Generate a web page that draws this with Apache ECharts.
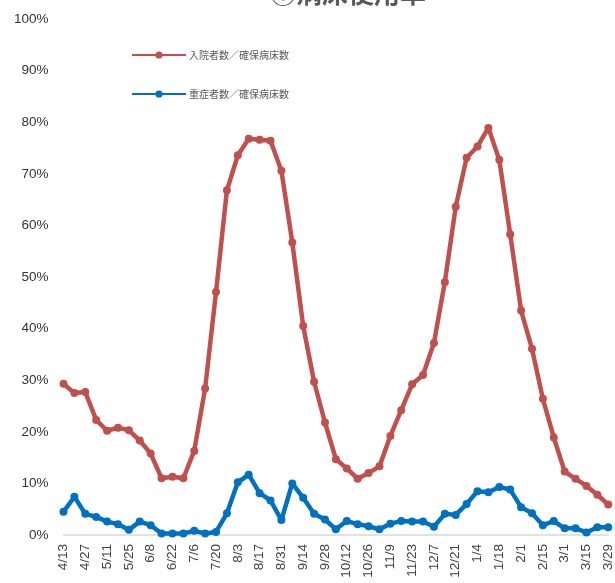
<!DOCTYPE html>
<html>
<head>
<meta charset="utf-8">
<script src="https://cdn.jsdelivr.net/npm/echarts@6/dist/echarts.min.js"></script>
<style>html,body{margin:0;padding:0;background:#fff}#c{width:615px;height:583px}</style>
</head>
<body>
<div id="c"></div>
<script>
const categories = ["4/13","4/20","4/27","5/4","5/11","5/18","5/25","6/1","6/8","6/15","6/22","6/29","7/6","7/13","7/20","7/27","8/3","8/10","8/17","8/24","8/31","9/7","9/14","9/21","9/28","10/5","10/12","10/19","10/26","11/2","11/9","11/16","11/23","11/30","12/7","12/14","12/21","12/28","1/4","1/11","1/18","1/25","2/1","2/8","2/15","2/22","3/1","3/8","3/15","3/22","3/29"];
const hospitalized = [29.3,27.5,27.7,22.3,20.2,20.8,20.3,18.3,15.8,11.0,11.3,11.0,16.3,28.4,47.1,66.8,73.6,76.8,76.6,76.4,70.6,56.7,40.5,29.7,21.8,14.7,12.9,10.9,12.0,13.3,19.2,24.2,29.2,31.0,37.2,49.0,63.6,73.1,75.3,78.9,72.7,58.3,43.5,36.1,26.4,18.9,12.3,10.9,9.5,7.8,5.9];
const severe = [4.5,7.4,4.1,3.5,2.6,2.1,1.0,2.6,1.9,0.3,0.3,0.3,0.8,0.3,0.6,4.2,10.2,11.7,8.1,6.7,2.9,10.0,7.2,4.1,3.0,1.1,2.7,2.1,1.7,1.1,2.2,2.7,2.6,2.6,1.6,4.1,3.9,6.0,8.5,8.3,9.3,8.8,5.4,4.2,1.9,2.7,1.3,1.3,0.5,1.5,1.5];
const yTicks = [0,10,20,30,40,50,60,70,80,90,100];
const seriesNames = ["入院者数／確保病床数","重症者数／確保病床数"];
const titleText = "⑥病床使用率";

const chart = echarts.init(document.getElementById('c'), null, {renderer:'canvas'});
const font = "'Liberation Sans', 'Noto Sans CJK JP', sans-serif";
chart.setOption({
  animation:false,
  backgroundColor:'#ffffff',
  title:{text:titleText,left:343,textAlign:'center',top:-25,textStyle:{fontSize:26,fontWeight:'bold',color:'#595959',fontFamily:"'Noto Sans CJK JP', sans-serif"}},
  legend:{orient:'vertical',left:126,top:45,itemWidth:54,itemHeight:9,itemGap:29,
    textStyle:{fontSize:10,color:'#595959',fontFamily:"'Noto Sans CJK JP', sans-serif",padding:[0,0,0,-2]},
    data:seriesNames},
  grid:{left:63.5,top:19,width:550,height:516,containLabel:false},
  xAxis:{type:'category',data:categories,boundaryGap:false,
    axisLine:{lineStyle:{color:'#d9d9d9',width:1.5}},axisTick:{show:false},
    axisLabel:{interval:1,rotate:90,fontSize:13.5,color:'#404040',fontFamily:font,margin:9}},
  yAxis:{type:'value',min:yTicks[0],max:yTicks[yTicks.length-1],interval:10,
    axisLine:{show:false},axisTick:{show:false},splitLine:{show:false},
    axisLabel:{formatter:'{value}%',fontSize:13.5,color:'#333333',fontFamily:font,margin:15}},
  series:[
    {name:seriesNames[0],type:'line',data:hospitalized,symbol:'circle',symbolSize:8,showAllSymbol:true,
      lineStyle:{color:'#C0504D',width:4.5},itemStyle:{color:'#C0504D'},z:2},
    {name:seriesNames[1],type:'line',data:severe,symbol:'circle',symbolSize:8,showAllSymbol:true,
      lineStyle:{color:'#0070C0',width:4.5},itemStyle:{color:'#0070C0'},z:3}
  ]
});
</script>
</body>
</html>
